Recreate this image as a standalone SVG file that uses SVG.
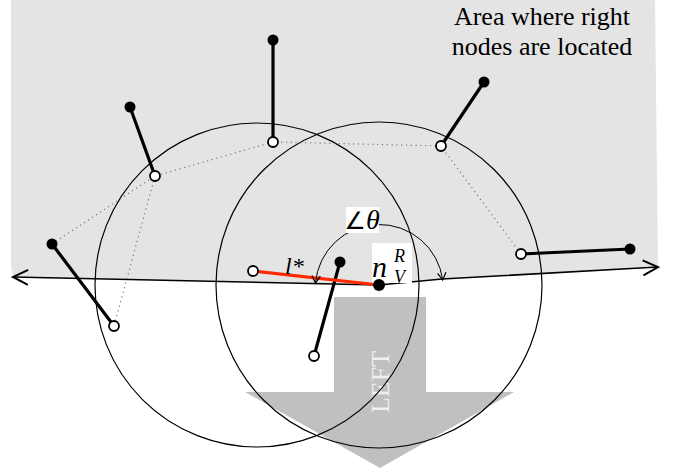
<svg xmlns="http://www.w3.org/2000/svg" width="673" height="474" viewBox="0 0 673 474">
  <style>
    .circ { fill: none; stroke: #000; stroke-width: 1.2; }
    .dot { fill: none; stroke: #777; stroke-width: 1.2; stroke-dasharray: 1.2 3.6; }
    .edge { stroke: #000; stroke-width: 3.2; stroke-linecap: round; }
    .bn { fill: #000; }
    .wn { fill: #fff; stroke: #000; stroke-width: 1.8; }
    .lbl { font-family: "Liberation Serif", "Times New Roman", serif; fill: #000; }
    .math { font-family: "Liberation Serif", "DejaVu Serif", serif; font-style: italic; fill: #000; }
  </style>
  <defs>
    <marker id="bigArr" markerUnits="userSpaceOnUse" markerWidth="20" markerHeight="20" refX="0" refY="0" viewBox="-14 -8 16 16" orient="auto-start-reverse" overflow="visible">
      <path d="M-12,-6 L0,0 L-12,6" fill="none" stroke="#000" stroke-width="1.6"/>
    </marker>
    <marker id="smallArr" markerUnits="userSpaceOnUse" markerWidth="12" markerHeight="12" refX="0" refY="0" viewBox="-8 -5 10 10" orient="auto-start-reverse" overflow="visible">
      <path d="M-6,-3.5 L0,0 L-6,3.5" fill="none" stroke="#000" stroke-width="1"/>
    </marker>
  </defs>

  <!-- area where right nodes are located -->
  <polygon id="area" points="11,0 655,0 658,267 442,279 379,285 13,277 11,265" fill="#e4e4e4"/>
  <text class="lbl" x="542" y="25" font-size="26" text-anchor="middle">Area where right</text>
  <text class="lbl" x="542" y="55" font-size="26" text-anchor="middle">nodes are located</text>

  <!-- LEFT arrow -->
  <g id="leftArrow">
    <polygon points="334,297 426,297 426,392 514,392 380,468 245,392 334,392" fill="#c0c0c0"/>
    <text class="lbl" x="0" y="0" font-size="26" style="fill:#f0f0f0" text-anchor="middle" dominant-baseline="central" transform="translate(380,382) rotate(-90)">LEFT</text>
  </g>

  <g id="connectors">
    <!-- boundary line -->
    <polyline points="13,277 379,285 442,279 658,267" fill="none" stroke="#000" stroke-width="1.6" marker-start="url(#bigArr)" marker-end="url(#bigArr)"/>
    <!-- range circles -->
    <circle class="circ" cx="257" cy="285" r="162"/>
    <circle class="circ" cx="379" cy="285" r="163"/>
    <!-- dotted hull -->
    <polyline class="dot" points="52,244 155,176 273,142 441,146 521,254"/>
    <line class="dot" x1="155" y1="176" x2="114" y2="326"/>
    <!-- node edges -->
    <line class="edge" x1="273" y1="40" x2="273" y2="142"/>
    <line class="edge" x1="130" y1="107" x2="155" y2="176"/>
    <line class="edge" x1="484" y1="82" x2="441" y2="146"/>
    <line class="edge" x1="52" y1="244" x2="114" y2="326"/>
    <line class="edge" x1="521" y1="254" x2="630" y2="249"/>
    <line class="edge" x1="340" y1="262" x2="314" y2="356"/>
    <!-- l* -->
    <line x1="253" y1="271" x2="379" y2="285" stroke="#ff2a00" stroke-width="3.2"/>
    <!-- angle arc -->
    <path d="M315.5,283 A64,64 0 0 1 442.7,280" fill="none" stroke="#000" stroke-width="1" marker-start="url(#smallArr)" marker-end="url(#smallArr)"/>
  </g>

  <g id="n1"><circle class="bn" cx="273" cy="40" r="5.5"/><circle class="wn" cx="273" cy="142" r="5"/></g>
  <g id="n2"><circle class="bn" cx="130" cy="107" r="5.5"/><circle class="wn" cx="155" cy="176" r="5"/></g>
  <g id="n3"><circle class="bn" cx="484" cy="82" r="5.5"/><circle class="wn" cx="441" cy="146" r="5"/></g>
  <g id="n4"><circle class="bn" cx="52" cy="244" r="5.5"/><circle class="wn" cx="114" cy="326" r="5"/></g>
  <g id="n5"><circle class="wn" cx="521" cy="254" r="5"/><circle class="bn" cx="630" cy="249" r="5.5"/></g>
  <g id="n6"><circle class="bn" cx="340" cy="262" r="5.5"/><circle class="wn" cx="314" cy="356" r="5"/></g>
  <g id="n7"><circle class="wn" cx="253" cy="271" r="5"/></g>

  <g id="angleLabel">
    <rect x="346" y="207" width="33" height="26" fill="#fff"/>
    <text class="math" x="362" y="229" font-size="28" text-anchor="middle"><tspan font-style="normal" font-family="DejaVu Sans, sans-serif" font-size="24">∠</tspan>θ</text>
  </g>

  <g id="nV">
    <rect x="372" y="243" width="40" height="40" fill="#fff"/>
    <text class="math" x="372" y="277" font-size="30">n</text>
    <text class="math" x="394" y="262" font-size="18">R</text>
    <text class="math" x="394" y="283" font-size="18">V</text>
    <circle class="bn" cx="379" cy="285" r="6"/>
  </g>

  <text class="math" x="285" y="274" font-size="24">l*</text>
</svg>
